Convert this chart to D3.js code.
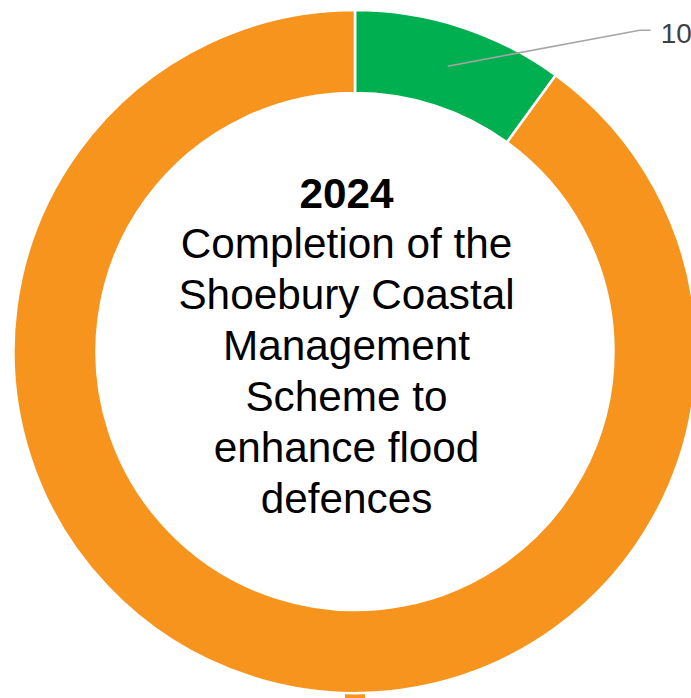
<!DOCTYPE html>
<html>
<head>
<meta charset="utf-8">
<script src="https://cdn.jsdelivr.net/npm/d3@7"></script>
<style>
  html, body { margin: 0; padding: 0; background: #ffffff; }
  svg { display: block; }
</style>
</head>
<body>
<svg id="chart" width="691" height="698"></svg>
<script>
// Share of the year's milestones
const categories = ["Completed", "Remaining"];
const values = [10, 90];
const colors = ["#00b050", "#f7941e"];
const titleYear = "2024";
const titleLines = ["Completion of the", "Shoebury Coastal", "Management", "Scheme to", "enhance flood", "defences"];

const width = 691, height = 698;
const cx = 355, cy = 351.5;
const outerR = 341.5, innerR = 258.5;

const svg = d3.select("#chart");
const g = svg.append("g").attr("transform", `translate(${cx},${cy})`);

const pie = d3.pie().sort(null).value(d => d.value);
const arcs = pie(categories.map((c, i) => ({ name: c, value: values[i], color: colors[i] })));
const arc = d3.arc().innerRadius(innerR).outerRadius(outerR);

// small stub below the ring in the ring colour
g.append("rect")
  .attr("x", -10)
  .attr("y", outerR - 3)
  .attr("width", 20)
  .attr("height", height - cy - outerR + 3)
  .attr("fill", colors[1]);

g.selectAll("path.slice")
  .data(arcs)
  .join("path")
  .attr("class", "slice")
  .attr("d", arc)
  .attr("fill", d => d.data.color)
  .attr("stroke", "#ffffff")
  .attr("stroke-width", 2.5)
  .attr("stroke-linejoin", "miter");

// value label for the first slice with a leader line
const first = arcs[0];
const [px, py] = arc.centroid(first);
const elbow = [px + 192, py - 36];
const end = [elbow[0] + 11, elbow[1]];
g.append("polyline")
  .attr("points", [[px, py], elbow, end].map(p => p.join(",")).join(" "))
  .attr("fill", "none")
  .attr("stroke", "#a6a6a6")
  .attr("stroke-width", 1.5);
g.append("text")
  .attr("x", end[0] + 10)
  .attr("y", end[1] + 13)
  .attr("font-family", "Liberation Sans, Arial, sans-serif")
  .attr("font-size", 28)
  .attr("fill", "#404040")
  .text(first.data.value);

// centre caption
const tx = -8.5;
const fs = 42.3;
g.append("text")
  .attr("x", tx)
  .attr("y", 208 - cy)
  .attr("text-anchor", "middle")
  .attr("font-family", "Liberation Sans, Arial, sans-serif")
  .attr("font-size", fs)
  .attr("font-weight", "bold")
  .attr("fill", "#000")
  .text(titleYear);

g.append("g")
  .selectAll("text")
  .data(titleLines)
  .join("text")
  .attr("x", tx)
  .attr("y", (d, i) => 257.5 - cy + i * 51)
  .attr("text-anchor", "middle")
  .attr("font-family", "Liberation Sans, Arial, sans-serif")
  .attr("font-size", fs)
  .attr("fill", "#000")
  .text(d => d);
</script>
</body>
</html>
